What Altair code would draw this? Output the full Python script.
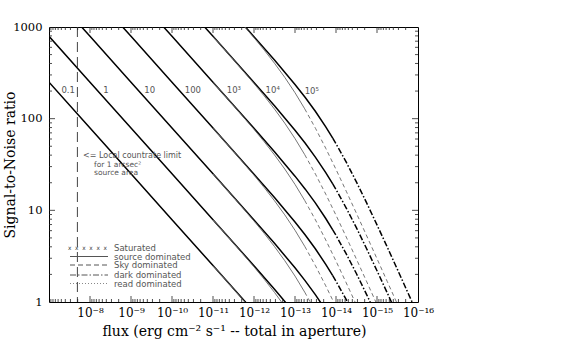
import altair as alt
import pandas as pd

W, H = 369, 275

# ---- exposure-time labels ----
exposure_labels = ["0.1", "1", "10", "100", "10³", "10⁴", "10⁵"]
label_flux = [3.4e-8, 4.1e-9, 3.5e-10, 3.1e-11, 3.1e-12, 3.5e-13, 3.9e-14]
label_sn = [206, 206, 206, 206, 206, 206, 200]

# ---- thick curves: source dominated part ----
flux_thick_source = [1e-7, 1e-8, 1e-9, 1e-10, 1e-11, 1e-12, 3.162e-13, 1e-13,
                     5.623e-14, 3.162e-14, 1.778e-14, 1.202e-14]
thick_src_0p1 = [250.0, 79.07, 25.00, 7.907, 2.500, 0.7852, 0.4365, 0.2360, 0.1702, 0.1197, 0.0815, 0.0613]
thick_src_1 = [790.7, 250.0, 79.07, 25.00, 7.907, 2.483, 1.380, 0.7464, 0.5383, 0.3784, 0.2576, 0.1939]
thick_src_10 = [2500, 790.7, 250.0, 79.07, 25.00, 7.852, 4.365, 2.360, 1.702, 1.197, 0.8147, 0.6131]
thick_src_100 = [7907, 2500, 790.7, 250.0, 79.07, 24.83, 13.80, 7.464, 5.383, 3.784, 2.576, 1.939]
thick_src_1e3 = [25000, 7907, 2500, 790.7, 250.0, 78.52, 43.65, 23.60, 17.02, 11.97, 8.147, 6.131]
thick_src_1e4 = [79070, 25000, 7907, 2500, 790.7, 248.3, 138.0, 74.64, 53.83, 37.84, 25.76, 19.39]
thick_src_1e5 = [250000, 79070, 25000, 7907, 2500, 785.2, 436.5, 236.0, 170.2, 119.7, 81.47, 61.31]

# ---- thick curves: dark dominated part ----
flux_thick_dark = [1.202e-14, 1e-14, 5.623e-15, 3.162e-15, 1.778e-15, 1e-15,
                   5.623e-16, 3.162e-16, 1.778e-16, 1e-16]
thick_dark_100 = [1.939, 1.687, 1.059, 0.6427, 0.3788, 0.2193, 0.1256, 0.07129, 0.04027, 0.02275]
thick_dark_1e3 = [6.131, 5.334, 3.349, 2.032, 1.198, 0.6935, 0.3972, 0.2254, 0.1273, 0.07194]
thick_dark_1e4 = [19.39, 16.87, 10.59, 6.427, 3.788, 2.193, 1.256, 0.7129, 0.4027, 0.2275]
thick_dark_1e5 = [61.31, 53.34, 33.49, 20.32, 11.98, 6.935, 3.972, 2.254, 1.273, 0.7194]

# ---- thin curves: source dominated part ----
flux_thin_source = [1e-11, 3.162e-12, 1e-12, 5.623e-13, 3.162e-13, 1.778e-13, 1e-13, 5.794e-14]
thin_src_0p1 = [2.492, 1.391, 0.7640, 0.5591, 0.4022, 0.2824, 0.1918, 0.1281]
thin_src_1 = [7.880, 4.398, 2.416, 1.768, 1.272, 0.8931, 0.6064, 0.4051]
thin_src_10 = [24.92, 13.91, 7.640, 5.591, 4.022, 2.824, 1.918, 1.281]
thin_src_100 = [78.80, 43.98, 24.16, 17.68, 12.72, 8.931, 6.064, 4.051]
thin_src_1e3 = [249.2, 139.1, 76.40, 55.91, 40.22, 28.24, 19.18, 12.81]
thin_src_1e4 = [788.0, 439.8, 241.6, 176.8, 127.2, 89.31, 60.64, 40.51]
thin_src_1e5 = [2492, 1391, 764.0, 559.1, 402.2, 282.4, 191.8, 128.1]

# ---- thin curves: sky dominated part ----
flux_thin_sky = [5.794e-14, 3.162e-14, 1.778e-14, 1e-14, 5.623e-15, 3.162e-15,
                 1.778e-15, 1e-15, 5.623e-16, 3.162e-16]
thin_sky_10 = [1.281, 0.7843, 0.4747, 0.2796, 0.1616, 0.09243, 0.05249, 0.02967, 0.01674, 0.009427]
thin_sky_100 = [4.051, 2.480, 1.501, 0.8840, 0.5112, 0.2922, 0.1660, 0.09382, 0.05293, 0.02981]
thin_sky_1e3 = [12.81, 7.843, 4.747, 2.796, 1.616, 0.9243, 0.5249, 0.2967, 0.1674, 0.09427]
thin_sky_1e4 = [40.51, 24.80, 15.01, 8.840, 5.112, 2.922, 1.660, 0.9382, 0.5293, 0.2981]
thin_sky_1e5 = [128.1, 78.43, 47.47, 27.96, 16.16, 9.243, 5.249, 2.967, 1.674, 0.9427]

# local count-rate limit
limit_flux = [2.03e-8]

# axis ticks
x_label_values = [1e-8, 1e-9, 1e-10, 1e-11, 1e-12, 1e-13, 1e-14, 1e-15, 1e-16]
x_major_ticks = [1e-8, 1e-9, 1e-10, 1e-11, 1e-12, 1e-13, 1e-14, 1e-15]
x_minor_ticks = [k * 10.0 ** n for n in range(-16, -7) for k in range(2, 10)]
y_label_values = [1, 10, 100, 1000]
y_major_ticks = [10, 100]
y_minor_ticks = [k * 10.0 ** n for n in range(0, 3) for k in range(2, 10)]


def frame(name, flux, sn):
    return pd.DataFrame({"flux": flux, "sn": sn, "curve": name})


thick_src = pd.concat([
    frame("0.1", flux_thick_source, thick_src_0p1),
    frame("1", flux_thick_source, thick_src_1),
    frame("10", flux_thick_source, thick_src_10),
    frame("100", flux_thick_source, thick_src_100),
    frame("1e3", flux_thick_source, thick_src_1e3),
    frame("1e4", flux_thick_source, thick_src_1e4),
    frame("1e5", flux_thick_source, thick_src_1e5),
])
thick_dark = pd.concat([
    frame("100", flux_thick_dark, thick_dark_100),
    frame("1e3", flux_thick_dark, thick_dark_1e3),
    frame("1e4", flux_thick_dark, thick_dark_1e4),
    frame("1e5", flux_thick_dark, thick_dark_1e5),
])
thin_src = pd.concat([
    frame("0.1", flux_thin_source, thin_src_0p1),
    frame("1", flux_thin_source, thin_src_1),
    frame("10", flux_thin_source, thin_src_10),
    frame("100", flux_thin_source, thin_src_100),
    frame("1e3", flux_thin_source, thin_src_1e3),
    frame("1e4", flux_thin_source, thin_src_1e4),
    frame("1e5", flux_thin_source, thin_src_1e5),
])
thin_sky = pd.concat([
    frame("10", flux_thin_sky, thin_sky_10),
    frame("100", flux_thin_sky, thin_sky_100),
    frame("1e3", flux_thin_sky, thin_sky_1e3),
    frame("1e4", flux_thin_sky, thin_sky_1e4),
    frame("1e5", flux_thin_sky, thin_sky_1e5),
])

xs = alt.Scale(type="log", domain=[1e-16, 1e-7], reverse=True, nice=False)
ys = alt.Scale(type="log", domain=[1, 1000], nice=False)

SERIF = "DejaVu Serif"
SANS = "DejaVu Sans"
GREY = "#555555"

sup_labels = ("['10⁻⁸','10⁻⁹','10⁻¹⁰','10⁻¹¹','10⁻¹²','10⁻¹³','10⁻¹⁴','10⁻¹⁵','10⁻¹⁶']"
              "[round(-log(datum.value)/LN10) - 8]")

x_axis = alt.Axis(values=x_label_values, labelExpr=sup_labels, ticks=False, domain=False,
                  grid=False, labelFont=SERIF, labelFontSize=12, labelColor="black",
                  labelPadding=5, labelFlush=False, labelOverlap=False,
                  title="flux (erg cm⁻² s⁻¹ -- total in aperture)", titleFont=SERIF,
                  titleFontSize=14, titleFontWeight="normal", titleColor="black",
                  titleX=W / 2 + 0.5, titleY=29, titleAlign="center", titleBaseline="middle")
y_axis = alt.Axis(values=y_label_values, format="d", ticks=False, domain=False, grid=False,
                  labelFont=SERIF, labelFontSize=11.5, labelColor="black", labelPadding=7,
                  labelFlush=False, labelOverlap=False,
                  title="Signal-to-Noise ratio", titleFont=SERIF, titleFontSize=14,
                  titleFontWeight="normal", titleColor="black",
                  titleX=-39, titleY=H / 2, titleAngle=270, titleAlign="center",
                  titleBaseline="middle")


def X(field):
    return alt.X(field, type="quantitative", scale=xs, axis=x_axis)


def Y(field):
    return alt.Y(field, type="quantitative", scale=ys, axis=y_axis)


def lines(df, **style):
    return alt.Chart(df).mark_line(clip=True, **style).encode(
        x=X("flux"), y=Y("sn"), detail="curve:N")


thin_src_layer = lines(thin_src, color="#666666", strokeWidth=0.9)
thin_sky_layer = lines(thin_sky, color="#666666", strokeWidth=0.9, strokeDash=[4, 3])
thick_src_layer = lines(thick_src, color="black", strokeWidth=1.5)
thick_dark_layer = lines(thick_dark, color="black", strokeWidth=1.5, strokeDash=[6, 2, 1.5, 2])

limit_layer = alt.Chart(pd.DataFrame({"flux": limit_flux})).mark_rule(
    color="#444444", strokeWidth=1, strokeDash=[10, 5]).encode(x=X("flux"))

labels_layer = alt.Chart(pd.DataFrame({"flux": label_flux, "sn": label_sn,
                                       "txt": exposure_labels})).mark_text(
    font=SANS, fontSize=8.5, color=GREY, baseline="middle", align="center").encode(
    x=X("flux"), y=Y("sn"), text="txt:N")


def ticks(values, length, side):
    base = alt.Chart(pd.DataFrame({"flux": values, "sn": values})).mark_rule(
        color="#222222", strokeWidth=0.8)
    if side == "bottom":
        return base.encode(x=X("flux"), y=alt.value(H), y2=alt.value(H - length))
    if side == "top":
        return base.encode(x=X("flux"), y=alt.value(0), y2=alt.value(length))
    if side == "left":
        return base.encode(y=Y("sn"), x=alt.value(0), x2=alt.value(length))
    return base.encode(y=Y("sn"), x=alt.value(W), x2=alt.value(W - length))


tick_layers = [
    ticks(x_major_ticks, 6, "bottom"), ticks(x_minor_ticks, 3, "bottom"),
    ticks(x_major_ticks, 6, "top"), ticks(x_minor_ticks, 3, "top"),
    ticks(y_major_ticks, 6, "left"), ticks(y_minor_ticks, 3, "left"),
    ticks(y_major_ticks, 6, "right"), ticks(y_minor_ticks, 3, "right"),
]


def note(text, x, y, size=7.5):
    return alt.Chart().mark_text(text=text, font=SANS, fontSize=size, color=GREY,
                                 align="left", baseline="middle").encode(
        x=alt.value(x), y=alt.value(y))


annot = [
    note("<= Local countrate limit", 34, 128.5, 8),
    note("for 1 arcsec²", 45, 137.5),
    note("source area", 45, 146),
]

NB = "\u00a0"
sat_text = (NB * 2).join(["x"] * 6)

# legend
lx1, lx2, ltx = 21, 59, 65
legend = [
    alt.Chart().mark_text(text=sat_text, font=SANS, fontSize=5.8, color="#333333",
                          align="left", baseline="middle").encode(x=alt.value(19), y=alt.value(221)),
    note("Saturated", ltx, 221, 8.5),
    alt.Chart().mark_rule(color=GREY, strokeWidth=1).encode(
        x=alt.value(lx1), x2=alt.value(lx2), y=alt.value(229.5)),
    note("source dominated", ltx, 229.5, 8.5),
    alt.Chart().mark_rule(color=GREY, strokeWidth=1, strokeDash=[5, 3]).encode(
        x=alt.value(lx1), x2=alt.value(lx2), y=alt.value(238)),
    note("Sky dominated", ltx, 238, 8.5),
    alt.Chart().mark_rule(color=GREY, strokeWidth=1, strokeDash=[6, 2, 1.5, 2]).encode(
        x=alt.value(lx1), x2=alt.value(lx2), y=alt.value(248)),
    note("dark dominated", ltx, 248, 8.5),
    alt.Chart().mark_rule(color="#888888", strokeWidth=1, strokeDash=[1, 2]).encode(
        x=alt.value(lx1), x2=alt.value(lx2), y=alt.value(256.5)),
    note("read dominated", ltx, 256.5, 8.5),
]

chart = alt.layer(
    thick_src_layer, thin_src_layer, thin_sky_layer, thick_dark_layer, limit_layer,
    labels_layer, *tick_layers, *annot, *legend,
).properties(
    width=W, height=H,
    autosize=alt.AutoSizeParams(type="none"),
    padding={"left": 49, "top": 27, "right": 572 - 49 - W, "bottom": 342 - 27 - H},
    background="white",
).configure_view(stroke="black", strokeWidth=1)

chart.save("out.html", embed_options={"renderer": "svg", "actions": False})
